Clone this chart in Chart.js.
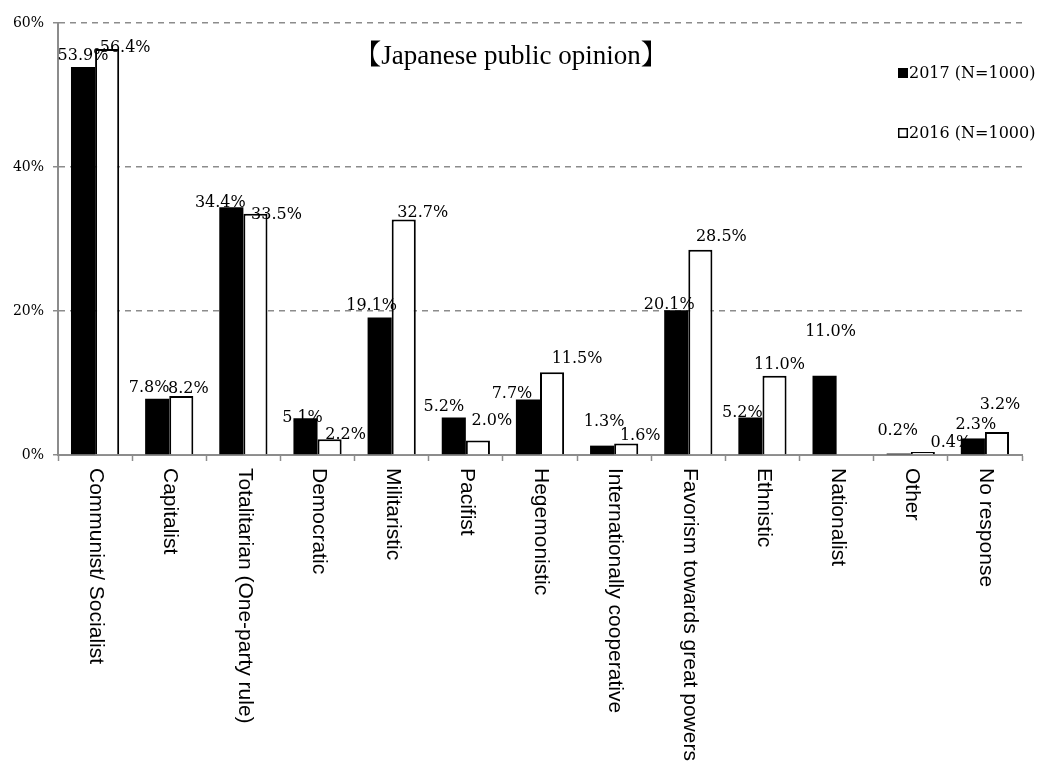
<!DOCTYPE html>
<html>
<head>
<meta charset="utf-8">
<script src="https://cdn.jsdelivr.net/npm/chart.js@4/dist/chart.umd.min.js"></script>
<style>
  html, body { margin: 0; padding: 0; background: #fff; }
  #wrap { width: 1041px; height: 763px; position: relative; }
</style>
</head>
<body>
<div id="wrap"><canvas id="chart"></canvas></div>
<script>
// Characterisation of China's political system, survey share (%)
const categories = [
  'Communist/ Socialist', 'Capitalist', 'Totalitarian (One-party rule)', 'Democratic',
  'Militaristic', 'Pacifist', 'Hegemonistic', 'Internationally cooperative',
  'Favorism towards great powers', 'Ethnistic', 'Nationalist', 'Other', 'No response'
];
const values2017 = [53.9, 7.8, 34.4, 5.1, 19.1, 5.2, 7.7, 1.3, 20.1, 5.2, 11.0, 0.2, 2.3];
const values2016 = [56.4, 8.2, 33.5, 2.2, 32.7, 2.0, 11.5, 1.6, 28.5, 11.0, null, 0.4, 3.2];
const seriesNames = ['2017 (N=1000)', '2016 (N=1000)'];
const yTicks = [0, 20, 40, 60];
const chartTitle = '【Japanese public opinion】';

const GRAY = '#8c8c8c';
const SERIF = '"DejaVu Serif", serif';

// small hand nudges for value labels [dx, dy] so they sit clear of neighbours
const labelNudge = [
  [[0,0],[-8,0],[-11,7],[-3,11],[-8,0],[-10,0],[-16,5],[2,-13],[-7,6],[-8,6],[6,-33],[-1,-12],[3,-2]],
  [[18,10],[7,4],[21,12],[16,7],[19,4],[14,-9],[25,-2],[14,4],[21,-2],[5,0],[0,0],[28,2],[3,-16]]
];

const valueLabels = {
  id: 'valueLabels',
  afterDatasetsDraw(chart) {
    const ctx = chart.ctx;
    ctx.save();
    ctx.font = '16px ' + SERIF;
    ctx.fillStyle = '#000';
    ctx.textAlign = 'center';
    ctx.textBaseline = 'alphabetic';
    chart.data.datasets.forEach((ds, di) => {
      const meta = chart.getDatasetMeta(di);
      meta.data.forEach((el, i) => {
        const v = ds.data[i];
        if (v === null || v === undefined) return;
        const n = labelNudge[di][i];
        ctx.fillText(v.toFixed(1) + '%', el.x + n[0], el.y - 7 + n[1]);
      });
    });
    ctx.restore();
  }
};

const extras = {
  id: 'extras',
  afterDraw(chart) {
    const ctx = chart.ctx;
    const xs = chart.scales.x;
    const area = chart.chartArea;
    ctx.save();
    // category names, rotated to read downward
    ctx.font = '21px "Liberation Sans", Arial, sans-serif';
    ctx.fillStyle = '#000';
    ctx.textAlign = 'left';
    ctx.textBaseline = 'middle';
    categories.forEach((c, i) => {
      const x = xs.getPixelForValue(i);
      ctx.save();
      ctx.translate(x + 1, area.bottom + 13);
      ctx.rotate(Math.PI / 2);
      ctx.fillText(c, 0, 0);
      ctx.restore();
    });
    // title inside the plot
    ctx.font = '27px "Liberation Serif", "Noto Serif CJK JP", "Noto Sans CJK JP", serif';
    ctx.textAlign = 'center';
    ctx.textBaseline = 'middle';
    ctx.fillText(chartTitle, 511, 57);
    // legend
    ctx.font = '16px ' + SERIF;
    ctx.textAlign = 'left';
    const rows = [73, 133];
    rows.forEach((y, k) => {
      if (k === 0) {
        ctx.fillStyle = '#000';
        ctx.fillRect(898, y - 5, 10, 10);
      } else {
        ctx.fillStyle = '#fff';
        ctx.fillRect(898, y - 5, 10, 10);
        ctx.strokeStyle = '#000';
        ctx.lineWidth = 1.5;
        ctx.strokeRect(898.75, y - 4.25, 8.5, 8.5);
      }
      ctx.fillStyle = '#000';
      ctx.fillText(seriesNames[k], 909, y + 1);
    });
    ctx.restore();
  }
};

new Chart(document.getElementById('chart'), {
  type: 'bar',
  data: {
    labels: categories,
    datasets: [
      { label: seriesNames[0], data: values2017, backgroundColor: '#000', borderWidth: 0,
        categoryPercentage: 0.65, barPercentage: 1.0 },
      { label: seriesNames[1], data: values2016, backgroundColor: '#fff', borderColor: '#000',
        borderWidth: 2, categoryPercentage: 0.65, barPercentage: 1.0 }
    ]
  },
  options: {
    responsive: true,
    maintainAspectRatio: false,
    animation: false,
    layout: { padding: { top: 23, right: 19, left: 0, bottom: 0 } },
    plugins: { legend: { display: false }, tooltip: { enabled: false } },
    scales: {
      x: {
        ticks: { display: false },
        grid: { display: true, drawOnChartArea: false, drawTicks: true, tickLength: 6,
                tickColor: GRAY, tickWidth: 1.5, offset: true },
        border: { display: true, color: GRAY, width: 2 },
        afterFit(scale) { scale.height = 308; }
      },
      y: {
        min: 0, max: 60,
        afterBuildTicks(scale) { scale.ticks = yTicks.map(v => ({ value: v })); },
        ticks: { callback: v => v + '%', font: { family: '"DejaVu Serif", serif', size: 14 },
                 color: '#000', padding: 9 },
        grid: { color: c => (c.tick && c.tick.value === 0) ? 'rgba(0,0,0,0)' : GRAY,
                lineWidth: 1.5, tickLength: 5, tickColor: GRAY, tickWidth: 1.5, tickBorderDash: [] },
        border: { display: true, color: GRAY, width: 2, dash: [6, 5] },
        afterFit(scale) { scale.width = 58; }
      }
    }
  },
  plugins: [valueLabels, extras]
});
</script>
</body>
</html>
